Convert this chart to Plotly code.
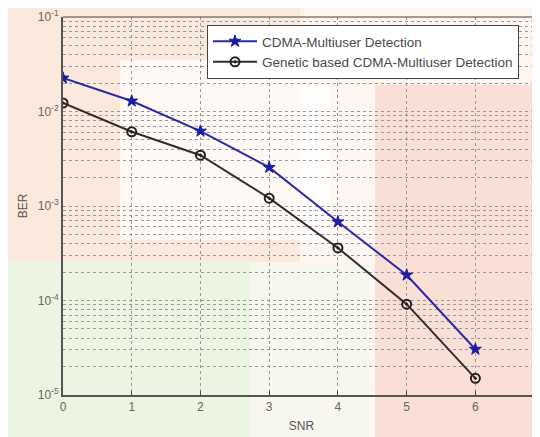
import plotly.graph_objects as go

snr = [0, 1, 2, 3, 4, 5, 6]
ber_cdma = [0.0226, 0.0129, 0.0062, 0.00256, 0.00068, 0.000186, 0.0000305]
ber_genetic = [0.0123, 0.0061, 0.00345, 0.00121, 0.00036, 0.0000915, 0.0000150]
x_ticks = [0, 1, 2, 3, 4, 5, 6]
y_exponents = [-5, -4, -3, -2, -1]

OFF = 8  # page body margin
W, H = 540 - OFF, 437 - OFF
L, R, T, B = 63 - OFF, 0, 17 - OFF, 437 - 395

major_vals = [10.0 ** e for e in y_exponents]
major_text = [f"10<sup>{e}</sup>" for e in y_exponents]
minor_vals = [k * 10.0 ** e for e in y_exponents[:-1] for k in range(2, 10)]

fig = go.Figure()
fig.add_trace(go.Scatter(
    x=snr, y=ber_cdma, mode="lines+markers", name="CDMA-Multiuser Detection",
    line=dict(color="#2a2aa8", width=2),
    marker=dict(symbol="star", size=9, color="#1c1ca0", line=dict(color="#1c1ca0", width=1)),
))
fig.add_trace(go.Scatter(
    x=snr, y=ber_genetic, mode="lines+markers", name="Genetic based CDMA-Multiuser Detection",
    line=dict(color="#2e2e2e", width=2),
    marker=dict(symbol="circle-open-dot", size=9, color="#222222", line=dict(color="#222222", width=2)),
))
# invisible helper trace so the minor-grid axis is drawn
fig.add_trace(go.Scatter(x=[None], y=[None], yaxis="y2", showlegend=False, hoverinfo="skip"))

def px_rect(x0, y0, x1, y1, color, opacity=1.0):
    x0 -= OFF; x1 -= OFF; y0 -= OFF; y1 -= OFF
    return dict(type="rect", xref="paper", yref="paper",
                x0=(x0 - L) / (W - L - R), x1=(x1 - L) / (W - L - R),
                y0=(H - B - y1) / (H - T - B), y1=(H - B - y0) / (H - T - B),
                fillcolor=color, line=dict(width=0), layer="below", opacity=opacity)

shapes = [
    px_rect(0, 0, 540, 437, "#fdf6f2"),
    px_rect(0, 0, 300, 262, "#fbe4d6", 0.75),
    px_rect(120, 60, 330, 240, "#ffffff", 0.7),
    px_rect(0, 262, 250, 437, "#e9f5de", 0.85),
    px_rect(250, 262, 370, 437, "#f4f8ef", 0.7),
    px_rect(375, 85, 540, 437, "#f8d5cb", 0.7),
    px_rect(300, 0, 540, 85, "#fdf3ef", 0.7),
    dict(type="line", xref="paper", yref="paper", x0=0, x1=1, y0=1, y1=1,
         line=dict(color="#444444", width=1)),
]

grid_common = dict(gridcolor="#999999", griddash="dot", gridwidth=1, zeroline=False)

fig.update_layout(
    width=W, height=H,
    margin=dict(l=L, r=R, t=T, b=B),
    paper_bgcolor="#fdf6f2",
    plot_bgcolor="rgba(0,0,0,0)",
    font=dict(family="Liberation Sans, Arial, sans-serif", size=11, color="#555555"),
    shapes=shapes,
    showlegend=True,
    legend=dict(
        x=(207 - 63) / (W - L - R), y=(395 - 25) / (H - T - B),
        xanchor="left", yanchor="top",
        bgcolor="#ffffff", bordercolor="#444444", borderwidth=1,
        font=dict(family="Liberation Sans, Arial, sans-serif", size=13.5, color="#4a4a4a"),
        tracegroupgap=0, itemwidth=44,
    ),
    xaxis=dict(
        range=[0, 6.94], tickvals=x_ticks, ticktext=[str(v) for v in x_ticks],
        showgrid=True, **grid_common,
        showline=True, linecolor="#555555", linewidth=2,
        ticks="inside", ticklen=4, tickcolor="#444444",
        title=dict(text="SNR", standoff=8, font=dict(size=12, color="#555555")),
        tickfont=dict(size=12, color="#666666"),
    ),
    yaxis=dict(
        type="log", range=[-5, -1], tickvals=major_vals, ticktext=major_text,
        showgrid=True, **grid_common,
        showline=True, linecolor="#555555", linewidth=2,
        ticks="",
        title=dict(text="BER", standoff=8, font=dict(size=12, color="#555555")),
        tickfont=dict(size=12, color="#666666"),
    ),
    yaxis2=dict(
        type="log", range=[-5, -1], overlaying="y", side="left",
        tickvals=minor_vals, showticklabels=False, ticks="",
        showgrid=True, **grid_common, showline=False,
    ),
)

fig.write_html("out.html")
